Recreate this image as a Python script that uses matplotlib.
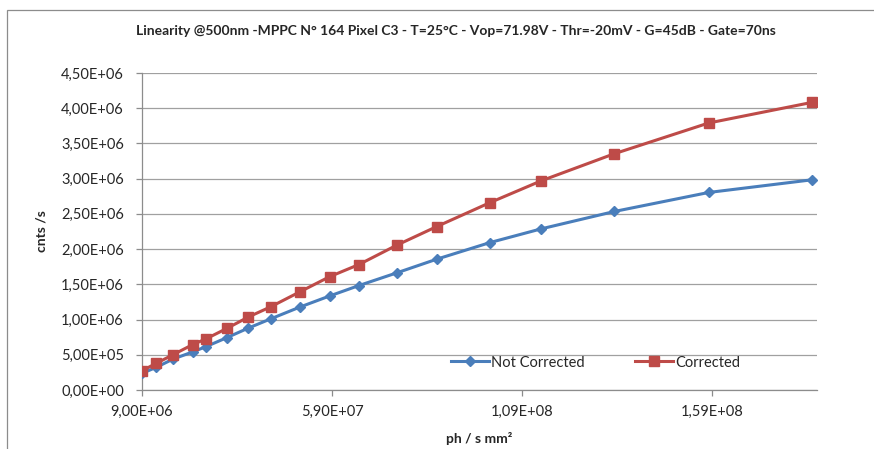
import matplotlib
matplotlib.use("Agg")
import matplotlib.pyplot as plt
from matplotlib.patches import Rectangle
from matplotlib.ticker import FuncFormatter, FixedLocator

# ---- data ----
photon_flux = [9.0e6, 1.27e7, 1.72e7, 2.23e7, 2.58e7, 3.13e7, 3.70e7, 4.28e7, 5.05e7,
               5.84e7, 6.60e7, 7.60e7, 8.65e7, 1.005e8, 1.14e8, 1.332e8, 1.58e8, 1.852e8]
not_corrected = [0.237e6, 0.32e6, 0.44e6, 0.54e6, 0.615e6, 0.743e6, 0.88e6, 1.009e6, 1.177e6,
                 1.336e6, 1.482e6, 1.663e6, 1.857e6, 2.093e6, 2.288e6, 2.534e6, 2.804e6, 2.984e6]
corrected = [0.274e6, 0.377e6, 0.502e6, 0.644e6, 0.725e6, 0.874e6, 1.037e6, 1.18e6, 1.393e6,
             1.61e6, 1.78e6, 2.056e6, 2.32e6, 2.66e6, 2.97e6, 3.354e6, 3.79e6, 4.083e6]
series_names = ["Not Corrected", "Corrected"]
x_ticks = [9.0e6, 5.9e7, 1.09e8, 1.59e8]
y_ticks = [i * 5e5 for i in range(10)]
title = "Linearity @500nm -MPPC N° 164 Pixel C3 - T=25°C - Vop=71.98V - Thr=-20mV - G=45dB - Gate=70ns"

plt.rcParams['font.family'] = ['Lato', 'DejaVu Sans']

W, H = 874, 449
fig = plt.figure(figsize=(W / 100, H / 100), dpi=100)
fig.patch.set_facecolor('white')

# chart-area border (left and top visible)
fig.add_artist(Rectangle((7 / W, -0.1), 1.2, 1 - 10 / H + 0.1, transform=fig.transFigure,
                         fill=False, edgecolor='#8c8c8c', linewidth=0.9))

left, right, top, bottom = 142, 817, 73, 390
ax = fig.add_axes([left / W, (H - bottom) / H, (right - left) / W, (bottom - top) / H])

blue = '#4A7EBB'
red = '#BE4B48'
ax.plot(photon_flux, not_corrected, color=blue, lw=2.2, marker='D', markersize=5.5,
        label=series_names[0], zorder=3)
ax.plot(photon_flux, corrected, color=red, lw=2.2, marker='s', markersize=6.5,
        label=series_names[1], zorder=4)

ax.set_xlim(9.0e6, 1.865e8)
ax.set_ylim(0, 4.5e6)

fmt = FuncFormatter(lambda v, p: f"{v:.2E}".replace('.', ','))
ax.xaxis.set_major_locator(FixedLocator(x_ticks))
ax.yaxis.set_major_locator(FixedLocator(y_ticks))
ax.xaxis.set_major_formatter(fmt)
ax.yaxis.set_major_formatter(fmt)

ax.grid(axis='y', color='#a0a0a0', linewidth=0.9)
ax.set_axisbelow(True)
for s in ['top', 'right']:
    ax.spines[s].set_visible(False)
for s in ['left', 'bottom']:
    ax.spines[s].set_color('#8c8c8c')
    ax.spines[s].set_linewidth(0.9)
ax.tick_params(axis='both', colors='#8c8c8c', labelcolor='#262626', labelsize=10.5,
               length=4, width=0.9)
ax.tick_params(axis='x', pad=7)
ax.tick_params(axis='y', pad=9)

fig.text(456 / W, 1 - 31 / H, title, fontsize=10, fontweight='bold', color='#262626',
         ha='center', va='center')
ax.set_xlabel("ph / s mm²", fontsize=10, fontweight='bold', color='#262626', labelpad=9)
ax.set_ylabel("cnts /s", fontsize=10, fontweight='bold', color='#262626', labelpad=10)

leg = ax.legend(loc='center', bbox_to_anchor=(0.672, 0.0866), ncol=2, frameon=False,
                fontsize=10.5, handlelength=2.6, columnspacing=3.4, handletextpad=0.2,
                borderaxespad=0)
for t in leg.get_texts():
    t.set_color('#262626')

fig.savefig("out.png", dpi=100)
